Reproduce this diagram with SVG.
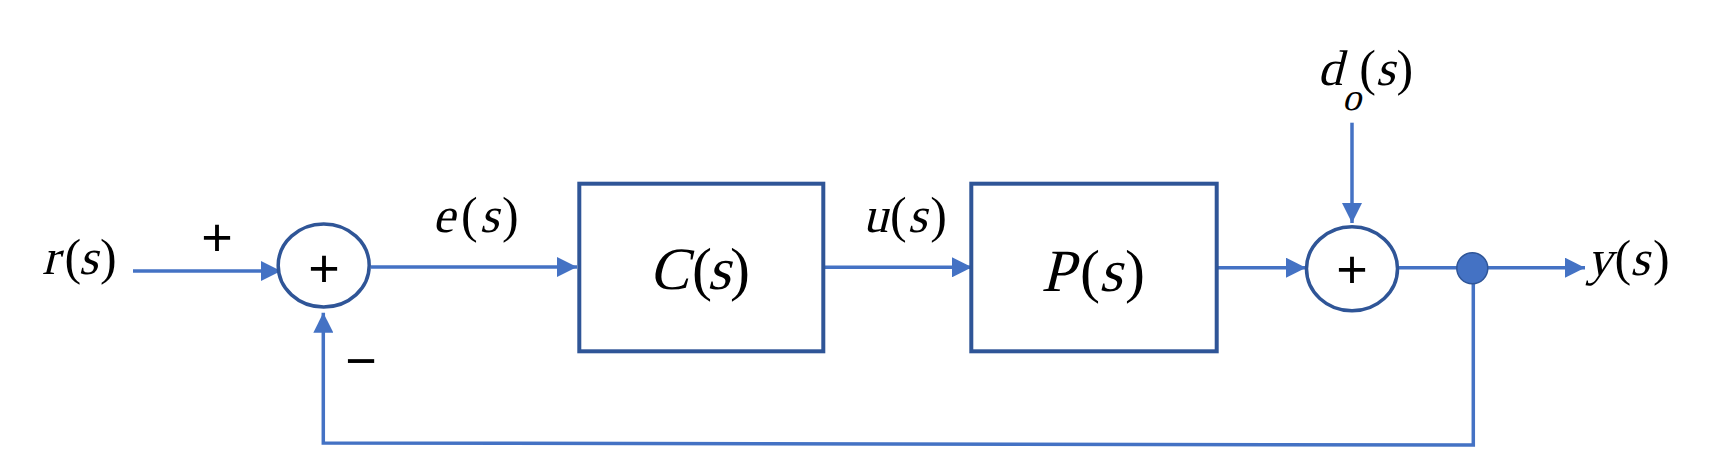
<svg xmlns="http://www.w3.org/2000/svg" width="1711" height="449" viewBox="0 0 1711 449">
<style>
.conn{fill:none;stroke:#4472C4;stroke-width:3.5}
.blk{fill:#fff;stroke:#2F5597;stroke-width:4}
.sum{fill:#fff;stroke:#2F5597;stroke-width:3.5}
.m{font-family:'Liberation Serif',serif;fill:#000}
.sign{font-family:'Liberation Sans',Arial,sans-serif;fill:#000;text-anchor:middle}
</style>
<defs>
<marker id="arr" markerUnits="userSpaceOnUse" markerWidth="20" markerHeight="20" refX="20" refY="10" orient="auto" viewBox="0 0 20 20">
<path d="M0,0 L20,10 L0,20 z" fill="#4472C4"/>
</marker>
</defs>
<rect width="1711" height="449" fill="#fff"/>
<g id="connectors">
<line class="conn" x1="133" y1="271" x2="281" y2="271" marker-end="url(#arr)"/>
<line class="conn" x1="371" y1="267" x2="577" y2="267" marker-end="url(#arr)"/>
<line class="conn" x1="825" y1="267.3" x2="972" y2="267.3" marker-end="url(#arr)"/>
<line class="conn" x1="1218" y1="267.7" x2="1306" y2="267.7" marker-end="url(#arr)"/>
<line class="conn" x1="1352" y1="122.7" x2="1352" y2="223" marker-end="url(#arr)"/>
<line class="conn" x1="1399" y1="267.7" x2="1585" y2="267.7" marker-end="url(#arr)"/>
<polyline class="conn" points="1473.3,268 1473.3,445 323.3,443 323.3,312.7" marker-end="url(#arr)"/>
</g>
<g id="sum1">
<ellipse class="sum" cx="323.7" cy="265.5" rx="45.5" ry="41.5"/>
<text class="sign" x="324" y="287" font-size="54">+</text>
</g>
<g id="controller">
<rect class="blk" x="579.3" y="183.7" width="244" height="167.6"/>
<text class="m" font-size="60" transform="translate(649,289) skewX(-14)">C</text>
<text class="m" font-size="60" transform="translate(707,289) skewX(-14)">s</text>
<text class="m" font-size="60" x="692 730" y="289">()</text>
</g>
<g id="plant">
<rect class="blk" x="971.3" y="183.7" width="245.4" height="167.6"/>
<text class="m" font-size="60" transform="translate(1041,291) skewX(-14)">P</text>
<text class="m" font-size="60" transform="translate(1098.7,291) skewX(-14)">s</text>
<text class="m" font-size="60" x="1080 1125" y="291">()</text>
</g>
<g id="sum2">
<ellipse class="sum" cx="1352" cy="268.8" rx="45.5" ry="42"/>
<text class="sign" x="1352" y="288.3" font-size="54">+</text>
</g>
<g id="branch">
<circle cx="1472.3" cy="268.3" r="15.5" fill="#4472C4" stroke="#2F5597" stroke-width="1.5"/>
</g>
<g id="input-label">
<text class="m" font-size="50" transform="translate(42,274) skewX(-14)">r</text>
<text class="m" font-size="50" transform="translate(78.5,274) skewX(-14)">s</text>
<text class="m" font-size="50" x="64.5 100" y="274">()</text>
</g>
<g id="signs">
<text class="sign" x="217" y="255.7" font-size="54">+</text>
<text class="sign" x="361" y="379" font-size="54">−</text>
</g>
<g id="error-label">
<text class="m" font-size="50" transform="translate(432.5,232) skewX(-14)">e</text>
<text class="m" font-size="50" transform="translate(479.5,232) skewX(-14)">s</text>
<text class="m" font-size="50" x="461 502" y="232">()</text>
</g>
<g id="control-label">
<text class="m" font-size="50" transform="translate(863,232) skewX(-14)">u</text>
<text class="m" font-size="50" transform="translate(907.5,232) skewX(-14)">s</text>
<text class="m" font-size="50" x="890 930.3" y="232">()</text>
</g>
<g id="disturbance-label">
<text class="m" font-size="50" transform="translate(1317.5,85) skewX(-14)">d</text>
<text class="m" font-size="38" transform="translate(1342,110) skewX(-14)">o</text>
<text class="m" font-size="50" transform="translate(1375.5,85) skewX(-14)">s</text>
<text class="m" font-size="50" x="1359.3 1396.5" y="85">()</text>
</g>
<g id="output-label">
<text class="m" font-size="50" transform="translate(1587,275) skewX(-14)">y</text>
<text class="m" font-size="50" transform="translate(1630,275) skewX(-14)">s</text>
<text class="m" font-size="50" x="1614.5 1653" y="275">()</text>
</g>
</svg>
